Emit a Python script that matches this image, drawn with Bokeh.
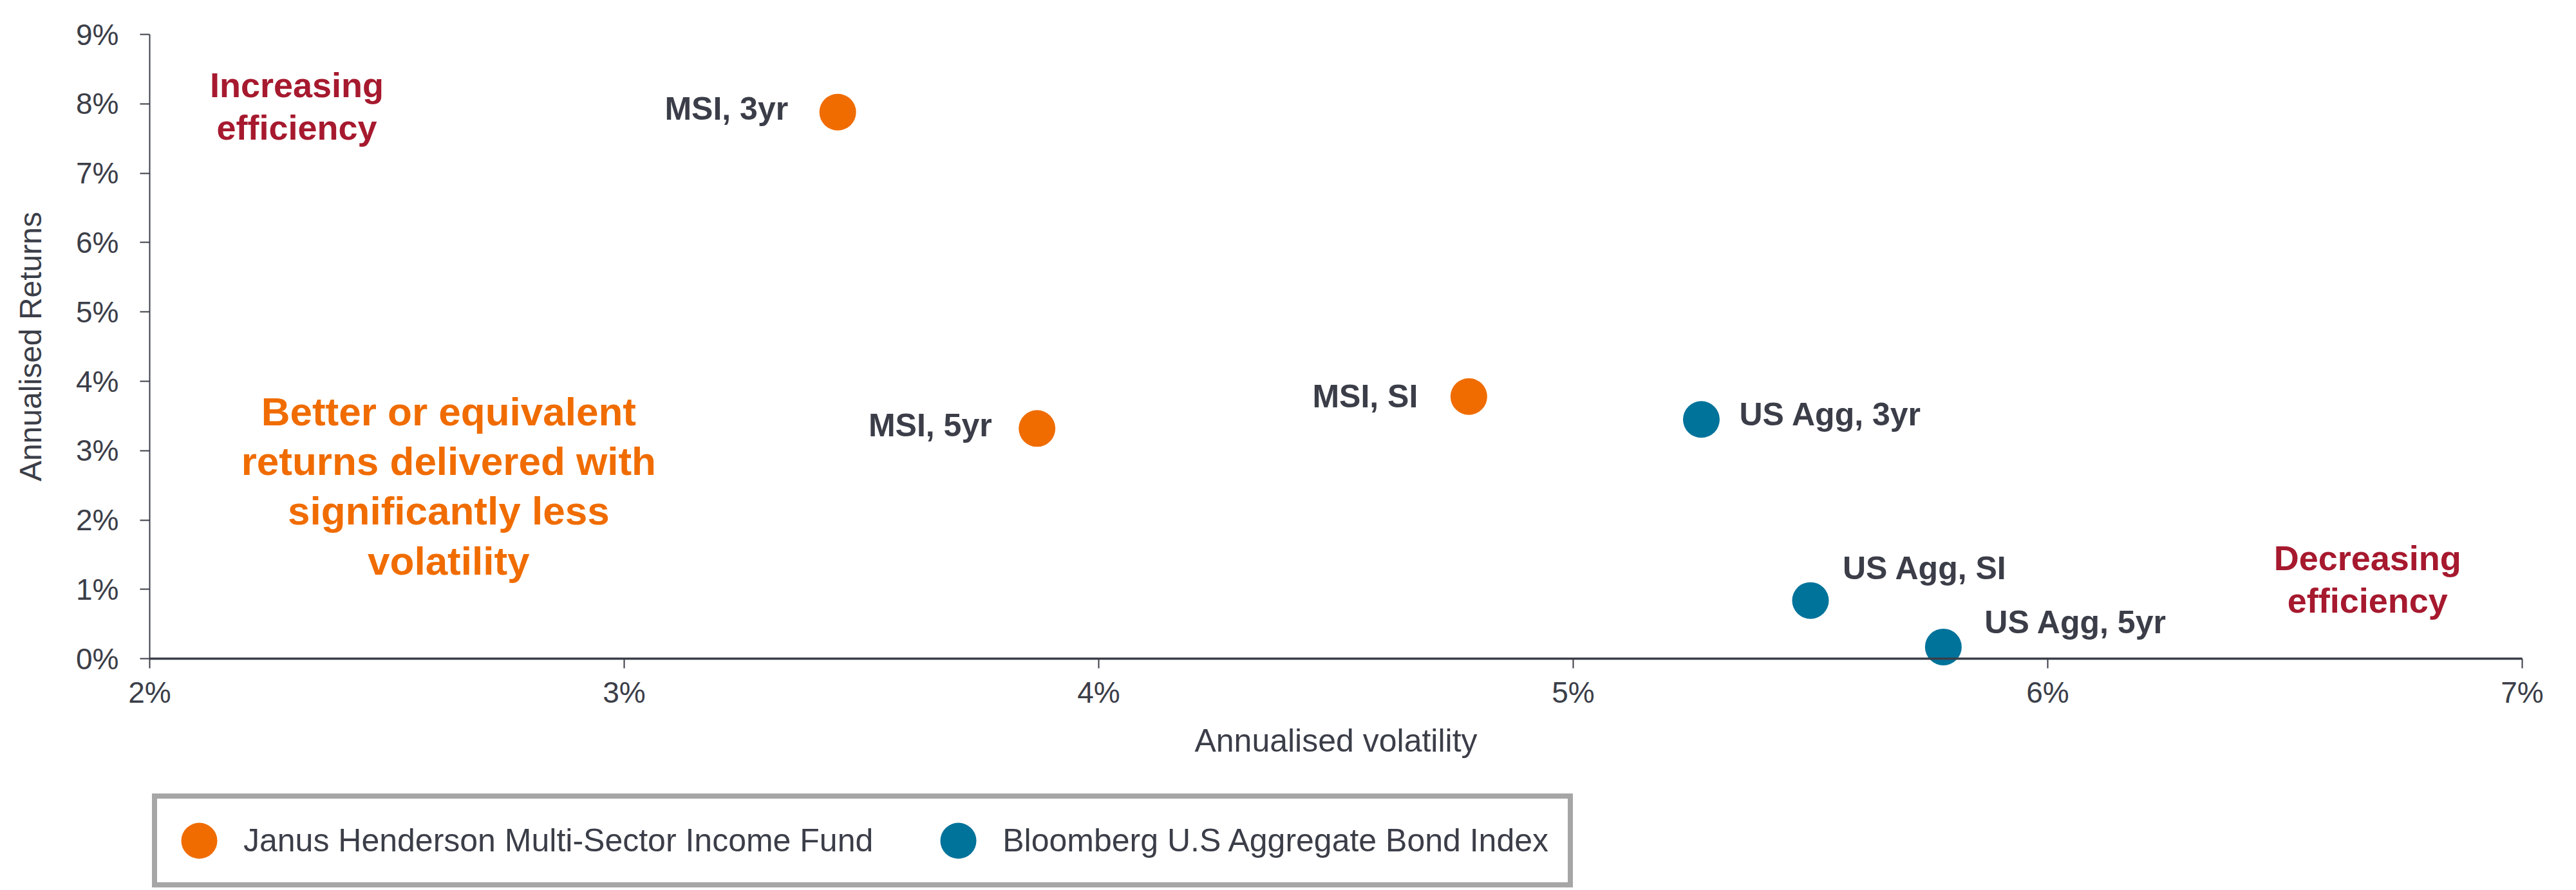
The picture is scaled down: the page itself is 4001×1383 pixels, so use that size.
from bokeh.plotting import figure
from bokeh.models import Legend, LegendItem, PrintfTickFormatter
from bokeh.core.properties import value
from bokeh.embed import file_html
from bokeh.resources import INLINE

# annualised volatility (%) / annualised returns (%)
msi_labels = ["MSI, 3yr", "MSI, 5yr", "MSI, SI"]
msi_vol = [3.45, 3.87, 4.78]
msi_ret = [7.88, 3.32, 3.78]

agg_labels = ["US Agg, 3yr", "US Agg, SI", "US Agg, 5yr"]
agg_vol = [5.27, 5.50, 5.78]
agg_ret = [3.45, 0.84, 0.17]

x_ticks = [2, 3, 4, 5, 6, 7]
y_ticks = [0, 1, 2, 3, 4, 5, 6, 7, 8, 9]

series_names = ["Janus Henderson Multi-Sector Income Fund", "Bloomberg U.S Aggregate Bond Index"]

ORANGE = "#f06c00"
TEAL = "#00739a"
DARK = "#3b3e48"
RED = "#a6192e"
FONT = "Liberation Sans"

# frame covers the whole canvas; both axes are pinned inside it
# (2% .. 7% on x, 0% .. 9% on y), the legend sits below the x axis
p = figure(
    width=3980,
    height=1380,
    x_range=(1.6852, 7.0855),
    y_range=(-3.3098, 9.4917),
    min_border=0,
    toolbar_location=None,
    output_backend="svg",
    background_fill_color="white",
    border_fill_color="white",
)
p.outline_line_color = None
p.grid.visible = False

r_msi = p.ellipse(x=msi_vol, y=msi_ret, width=57, height=57,
                  width_units="screen", height_units="screen",
                  fill_color=ORANGE, line_color=None)
r_agg = p.ellipse(x=agg_vol, y=agg_ret, width=57, height=57,
                  width_units="screen", height_units="screen",
                  fill_color=TEAL, line_color=None)

# point labels
p.text(x=msi_vol, y=msi_ret, text=msi_labels,
       x_offset=[-77, -70, -79], y_offset=[-5, -5, 0],
       text_align="right", text_baseline="middle",
       text_font=value(FONT), text_font_style="bold",
       text_font_size="50px", text_color=DARK)
p.text(x=agg_vol, y=agg_ret, text=agg_labels,
       x_offset=[59, 50, 64], y_offset=[-8, -50, -38],
       text_align="left", text_baseline="middle",
       text_font=value(FONT), text_font_style="bold",
       text_font_size="50px", text_color=DARK)

# commentary
p.text(x=[2.31], y=[7.97], text=["Increasing\nefficiency"],
       text_align="center", text_baseline="middle", text_line_height=1.1,
       text_font=value(FONT), text_font_style="bold",
       text_font_size="54px", text_color=RED)
p.text(x=[6.674], y=[1.15], text=["Decreasing\nefficiency"],
       text_align="center", text_baseline="middle", text_line_height=1.1,
       text_font=value(FONT), text_font_style="bold",
       text_font_size="54px", text_color=RED)
p.text(x=[2.63], y=[2.49],
       text=["Better or equivalent\nreturns delivered with\nsignificantly less\nvolatility"],
       text_align="center", text_baseline="middle", text_line_height=1.12,
       text_font=value(FONT), text_font_style="bold",
       text_font_size="62px", text_color=ORANGE)

# axes
p.xaxis.ticker = x_ticks
p.yaxis.ticker = y_ticks
p.xaxis.formatter = PrintfTickFormatter(format="%d%%")
p.yaxis.formatter = PrintfTickFormatter(format="%d%%")
p.xaxis.axis_label = "Annualised volatility"
p.yaxis.axis_label = "Annualised Returns"
p.xaxis.fixed_location = 0
p.yaxis.fixed_location = 2
p.xaxis.bounds = (2, 7)
p.yaxis.bounds = (0, 9)

for ax in (p.xaxis, p.yaxis):
    ax.axis_line_color = DARK
    ax.major_tick_line_color = DARK
    ax.major_tick_line_width = 2
    ax.major_tick_out = 15
    ax.major_tick_in = 0
    ax.minor_tick_line_color = None
    ax.major_label_text_font = FONT
    ax.major_label_text_font_size = "46px"
    ax.major_label_text_color = DARK
    ax.axis_label_text_font = FONT
    ax.axis_label_text_font_size = "48px"
    ax.axis_label_text_font_style = "normal"
    ax.axis_label_text_color = DARK

p.xaxis.axis_label_text_font_size = "50px"
p.xaxis.axis_line_width = 3.5
p.yaxis.axis_line_width = 2
p.xaxis.major_label_standoff = 11
p.xaxis.axis_label_standoff = 18
p.yaxis.major_label_standoff = 33
p.yaxis.axis_label_standoff = 41

legend = Legend(
    items=[LegendItem(label=series_names[0], renderers=[r_msi]),
           LegendItem(label=series_names[1], renderers=[r_agg])],
    orientation="horizontal",
    location=(236, 1),
    glyph_width=70,
    glyph_height=70,
    padding=30,
    spacing=97,
    label_standoff=34,
    label_text_font=FONT,
    label_text_font_size="50px",
    label_text_color=DARK,
    label_text_baseline="middle",
    border_line_color="#a6a6a6",
    border_line_alpha=1,
    border_line_width=8,
    background_fill_color="white",
    background_fill_alpha=1,
    margin=0,
)
p.add_layout(legend, "center")

open("out.html", "w").write(file_html(p, INLINE))
